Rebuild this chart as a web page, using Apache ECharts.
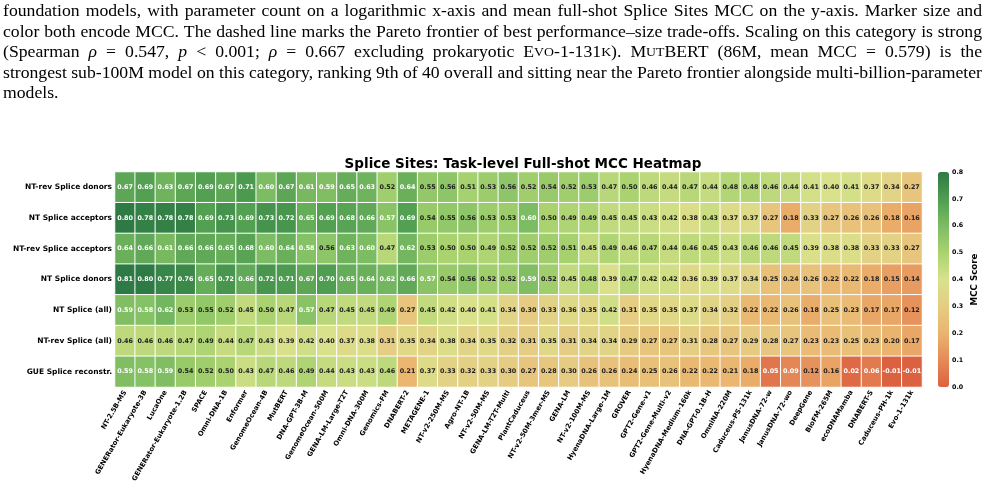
<!DOCTYPE html>
<html><head><meta charset="utf-8">
<script src="https://cdn.jsdelivr.net/npm/echarts@6/dist/echarts.min.js"></script>
<style>html,body{margin:0;padding:0;background:#fff}#c{width:986px;height:492px}</style>
</head><body><div id="c"></div>
<script>
// ---------- DATA ----------
const models = ['NT-2.5B-MS','GENERator-Eukaryote-3B','LucaOne','GENERator-Eukaryote-1.2B','SPACE','Omni-DNA-1B','Enformer','GenomeOcean-4B','MutBERT','DNA-GPT-3B-M','GenomeOcean-500M','GENA-LM-Large-T2T','Omni-DNA-300M','Genomics-FM','DNABERT-2','METAGENE-1','NT-v2-250M-MS','Agro-NT-1B','NT-v2-50M-MS','GENA-LM-T2T-Multi','PlantCaduceus','NT-v2-50M-3mer-MS','GENA-LM','NT-v2-100M-MS','HyenaDNA-Large-1M','GROVER','GPT2-Gene-v1','GPT2-Gene-Multi-v2','HyenaDNA-Medium-160k','DNA-GPT-0.1B-H','OmniNA-220M','Caduceus-PS-131k','JanusDNA-72-w','JanusDNA-72-wo','DeepGene','BioFM-265M','ecoDNAMamba','DNABERT-S','Caduceus-PH-1k','Evo-1-131k'];
const tasks = ['NT-rev Splice donors','NT Splice acceptors','NT-rev Splice acceptors','NT Splice donors','NT Splice (all)','NT-rev Splice (all)','GUE Splice reconstr.'];
const ntRevDonors    = [0.67,0.69,0.63,0.67,0.69,0.67,0.71,0.60,0.67,0.61,0.59,0.65,0.63,0.52,0.64,0.55,0.56,0.51,0.53,0.56,0.52,0.54,0.52,0.53,0.47,0.50,0.46,0.44,0.47,0.44,0.48,0.48,0.46,0.44,0.41,0.40,0.41,0.37,0.34,0.27];
const ntAcceptors    = [0.80,0.78,0.78,0.78,0.69,0.73,0.69,0.73,0.72,0.65,0.69,0.68,0.66,0.57,0.69,0.54,0.55,0.56,0.53,0.53,0.60,0.50,0.49,0.49,0.45,0.45,0.43,0.42,0.38,0.43,0.37,0.37,0.27,0.18,0.33,0.27,0.26,0.26,0.18,0.16];
const ntRevAcceptors = [0.64,0.66,0.61,0.66,0.66,0.65,0.68,0.60,0.64,0.58,0.56,0.63,0.60,0.47,0.62,0.53,0.50,0.50,0.49,0.52,0.52,0.52,0.51,0.45,0.49,0.46,0.47,0.44,0.46,0.45,0.43,0.46,0.46,0.45,0.39,0.38,0.38,0.33,0.33,0.27];
const ntDonors       = [0.81,0.80,0.77,0.76,0.65,0.72,0.66,0.72,0.71,0.67,0.70,0.65,0.64,0.62,0.66,0.57,0.54,0.56,0.52,0.52,0.59,0.52,0.45,0.48,0.39,0.47,0.42,0.42,0.36,0.39,0.37,0.34,0.25,0.24,0.26,0.22,0.22,0.18,0.15,0.14];
const ntAll          = [0.59,0.58,0.62,0.53,0.55,0.52,0.45,0.50,0.47,0.57,0.47,0.45,0.45,0.49,0.27,0.45,0.42,0.40,0.41,0.34,0.30,0.33,0.36,0.35,0.42,0.31,0.35,0.35,0.37,0.34,0.32,0.22,0.22,0.26,0.18,0.25,0.23,0.17,0.17,0.12];
const ntRevAll       = [0.46,0.46,0.46,0.47,0.49,0.44,0.47,0.43,0.39,0.42,0.40,0.37,0.38,0.31,0.35,0.34,0.38,0.34,0.35,0.32,0.31,0.35,0.31,0.34,0.34,0.29,0.27,0.27,0.31,0.28,0.27,0.29,0.28,0.27,0.23,0.23,0.25,0.23,0.20,0.17];
const gueReconstr    = [0.59,0.58,0.59,0.54,0.52,0.50,0.43,0.47,0.46,0.49,0.44,0.43,0.43,0.46,0.21,0.37,0.33,0.32,0.33,0.30,0.27,0.28,0.30,0.26,0.26,0.24,0.25,0.26,0.22,0.22,0.21,0.18,0.05,0.09,0.12,0.16,0.02,0.06,-0.01,-0.01];
const cbMin = 0, cbMax = 0.8, cbStep = 0.1;

const captionLines = [
  'foundation models, with parameter count on a logarithmic x-axis and mean full-shot Splice Sites MCC on the y-axis. Marker size and',
  'color both encode MCC. The dashed line marks the Pareto frontier of best performance–size trade-offs. Scaling on this category is strong',
  '(Spearman {i|ρ} = 0.547, {i|p} < 0.001; {i|ρ} = 0.667 excluding prokaryotic E{sc|VO}-1-131{sc|K}). M{sc|UT}BERT (86M, mean MCC = 0.579) is the',
  'strongest sub-100M model on this category, ranking 9th of 40 overall and sitting near the Pareto frontier alongside multi-billion-parameter',
  'models.'
];

// ---------- BUILD ----------
const rows = [ntRevDonors, ntAcceptors, ntRevAcceptors, ntDonors, ntAll, ntRevAll, gueReconstr];
const data = [];
rows.forEach((row, yi) => row.forEach((v, xi) => {
  const white = v >= 0.565 || v < 0.1;
  data.push({ value: [xi, yi, v, Math.max(cbMin, Math.min(cbMax, v))],
              label: { color: white ? '#ffffff' : '#222222' } });
}));

// caption with justified lines
const FS = 17, FAM = '"Liberation Serif", "Times New Roman", serif';
const fonts = { n: `${FS}px ${FAM}`, i: `italic ${FS}px ${FAM}`, sc: `${FS*0.78}px ${FAM}` };
const ctx = document.createElement('canvas').getContext('2d');
function measure(t, f) { ctx.font = fonts[f]; return ctx.measureText(t).width; }
function parseWord(w) {
  const segs = []; const re = /\{(\w+)\|([^}]*)\}/g; let last = 0, m;
  while ((m = re.exec(w))) { if (m.index > last) segs.push([w.slice(last, m.index), 'n']); segs.push([m[2], m[1]]); last = re.lastIndex; }
  if (last < w.length) segs.push([w.slice(last), 'n']);
  return segs;
}
const capLeft = 3, capRight = 982, capY0 = 12, capDy = 20.5;
const spaceW = measure(' ', 'n');
const parsed = captionLines.map(line => {
  const words = line.split(' ').map(parseWord);
  const widths = words.map(ws => ws.reduce((s, [t, f]) => s + measure(t, f), 0));
  const total = widths.reduce((a, b) => a + b, 0);
  return { words, widths, total, natural: total + spaceW * (words.length - 1) };
});
// common horizontal scale so that the widest justified line fits with normal spaces
const SX = Math.min(...parsed.slice(0, -1).map(p => (capRight - capLeft) / p.natural));
const graphics = [];
parsed.forEach((p, li) => {
  const justify = li < parsed.length - 1;
  const gap = justify ? (capRight - capLeft - p.total * SX) / (p.words.length - 1) : spaceW * SX;
  let x = capLeft;
  const y = capY0 + li * capDy;
  p.words.forEach(ws => {
    ws.forEach(([t, f]) => {
      graphics.push({ type: 'text', x: x, y: y, scaleX: SX, silent: true,
        style: { text: t, font: fonts[f], fill: '#000', align: 'left', verticalAlign: 'middle' } });
      x += measure(t, f) * SX;
    });
    x += gap;
  });
});

const bold = { fontFamily: 'DejaVu Sans', fontWeight: 'bold', color: '#000' };
const chart = echarts.init(document.getElementById('c'), null, { renderer: 'canvas' });
chart.setOption({
  backgroundColor: '#fff',
  animation: false,
  title: { text: 'Splice Sites: Task-level Full-shot MCC Heatmap', left: 518, top: 152, textAlign: 'center',
           textStyle: Object.assign({}, bold, { fontSize: 13.5 }) },
  graphic: graphics,
  grid: [
    { left: 115, top: 172, width: 807, height: 215 },
    { left: 938, top: 172, width: 11, height: 215 }
  ],
  xAxis: [
    { type: 'category', data: models, gridIndex: 0, axisLine: { show: false }, axisTick: { show: false },
      axisLabel: Object.assign({}, bold, { fontSize: 6.8, rotate: 60, interval: 0, margin: 4, hideOverlap: false }),
      splitLine: { show: false } },
    { type: 'value', gridIndex: 1, show: false, min: 0, max: 1 }
  ],
  yAxis: [
    { type: 'category', data: tasks, gridIndex: 0, inverse: true, axisLine: { show: false }, axisTick: { show: false },
      axisLabel: Object.assign({}, bold, { fontSize: 7.5, margin: 3 }), splitLine: { show: false } },
    { type: 'value', gridIndex: 1, min: cbMin, max: cbMax, interval: cbStep, position: 'right',
      axisLine: { show: false }, axisTick: { show: false }, splitLine: { show: false },
      axisLabel: Object.assign({}, bold, { fontSize: 6.3, margin: 3, formatter: v => v.toFixed(1) }),
      name: 'MCC Score', nameLocation: 'middle', nameGap: 21, nameRotate: 90,
      nameTextStyle: Object.assign({}, bold, { fontSize: 8.7 }) }
  ],
  visualMap: {
    type: 'continuous', min: cbMin, max: cbMax, dimension: 3, seriesIndex: 0, calculable: false,
    left: 938, top: 172, itemWidth: 11, itemHeight: 215, padding: 0, text: null, hoverLink: false,
    inRange: { color: ['#dc6140', '#e58a57', '#eab46e', '#e6cc82', '#d9e18b', '#aad370', '#7cbc62', '#4f9d51', '#2d7a44'] }
  },
  series: [{
    type: 'heatmap', xAxisIndex: 0, yAxisIndex: 0, data: data,
    itemStyle: { borderColor: '#ffffff', borderWidth: 1 },
    label: { show: true, fontFamily: 'DejaVu Sans', fontWeight: 'bold', fontSize: 6.4,
             formatter: p => p.value[2].toFixed(2) },
    emphasis: { disabled: true }
  }]
});
</script></body></html>
